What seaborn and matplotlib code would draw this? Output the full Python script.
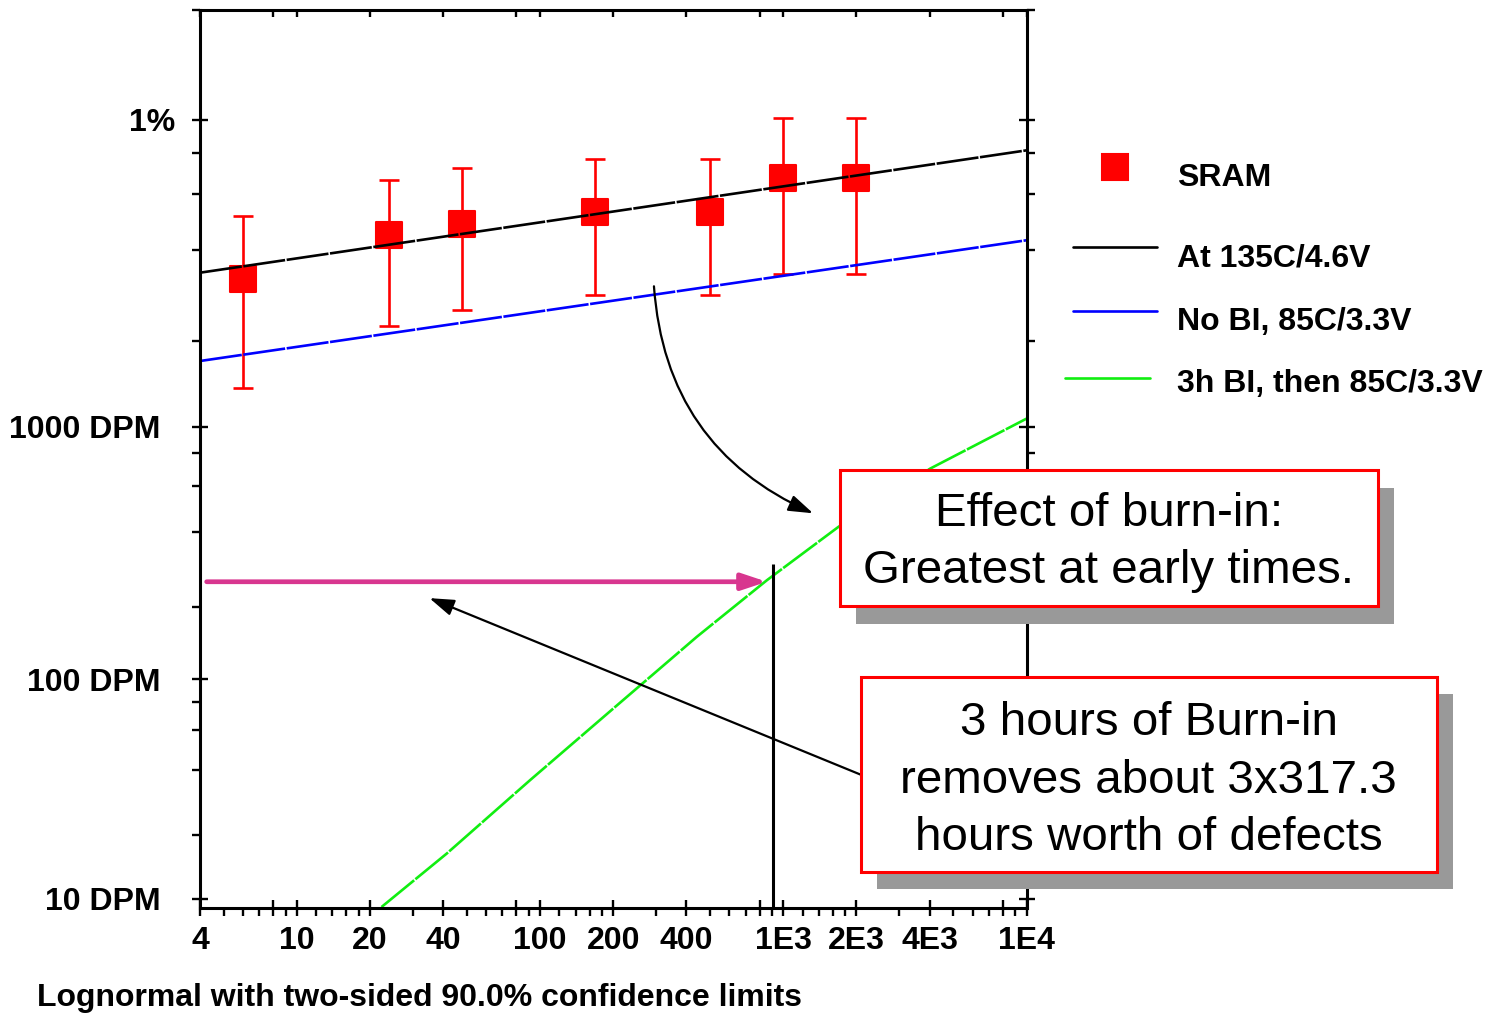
import math
import numpy as np
import matplotlib
matplotlib.use("Agg")
import matplotlib.pyplot as plt
import seaborn as sns
from matplotlib.ticker import FixedLocator, FixedFormatter, NullFormatter, NullLocator
from matplotlib.patches import Rectangle
from matplotlib.lines import Line2D

# ---------------- data ----------------
hours = [6, 24, 48, 168, 500, 1000, 2000]
frac_failed = [0.00324, 0.00447, 0.00486, 0.00527, 0.00527, 0.00673, 0.00673]
ci_upper = [0.00514, 0.00664, 0.00718, 0.00764, 0.00764, 0.01009, 0.01009]
ci_lower = [0.00137, 0.00225, 0.00255, 0.00287, 0.00287, 0.00335, 0.00335]

fit_hours = [4, 10000]
fit_135C = [0.00339, 0.00813]          # At 135C/4.6V
fit_85C_noBI = [0.00171, 0.00431]      # No BI, 85C/3.3V

bi_hours = [22.3, 41.3, 91, 200, 441, 856, 1686, 4015, 10000]
bi_frac = [9.1e-6, 1.64e-5, 3.59e-5, 7.47e-5, 1.51e-4, 2.575e-4, 4.19e-4, 6.99e-4, 1.068e-3]

x_major = [4, 8, 10, 20, 40, 80, 100, 200, 400, 800, 1000, 2000, 4000, 8000, 10000]
x_major_labels = ["4", "", "10", "20", "40", "", "100", "200", "400", "",
                  "1E3", "2E3", "4E3", "", "1E4"]
x_minor = [5, 6, 7, 9, 12, 14, 16, 18, 30, 50, 60, 70, 90, 120, 140, 160, 180,
           300, 500, 600, 700, 900, 1200, 1400, 1600, 1800, 3000, 5000, 6000,
           7000, 9000]
y_major = [1e-5, 1e-4, 1e-3, 1e-2]
y_major_labels = ["10 DPM", "100 DPM", "1000 DPM", "1%"]
y_minor = [2e-5, 4e-5, 6e-5, 8e-5, 2e-4, 4e-4, 6e-4, 8e-4,
           2e-3, 4e-3, 6e-3, 8e-3, 2e-2]

legend_labels = ["SRAM", "At 135C/4.6V", "No BI, 85C/3.3V", "3h BI, then 85C/3.3V"]
box1_lines = ["Effect of burn-in:", "Greatest at early times."]
box2_lines = ["3 hours of Burn-in", "removes about 3x317.3", "hours worth of defects"]
x_label = "Lognormal with two-sided 90.0% confidence limits"

# annotation anchors (data coordinates)
bi_end_hours = 906
pink_y = 2.54e-4

# ---------------- probit scale helpers ----------------
_SQ2 = math.sqrt(2.0)
_A = [-3.969683028665376e+01, 2.209460984245205e+02, -2.759285104469687e+02,
      1.383577518672690e+02, -3.066479806614716e+01, 2.506628277459239e+00]
_B = [-5.447609879822406e+01, 1.615858368580409e+02, -1.556989798598866e+02,
      6.680131188771972e+01, -1.328068155288572e+01]
_C = [-7.784894002430293e-03, -3.223964580411365e-01, -2.400758277161838e+00,
      -2.549732539343734e+00, 4.374664141464968e+00, 2.938163982698783e+00]
_D = [7.784695709041462e-03, 3.224671290700398e-01, 2.445134137142996e+00,
      3.754408661907416e+00]


def _cdf_s(z):
    if z != z:
        return float("nan")
    return 0.5 * math.erfc(-z / _SQ2)


def _ppf_s(p):
    if p != p:
        return float("nan")
    p = min(max(p, 1e-15), 1 - 1e-15)
    plow = 0.02425
    if p < plow:
        q = math.sqrt(-2 * math.log(p))
        x = (((((_C[0]*q+_C[1])*q+_C[2])*q+_C[3])*q+_C[4])*q+_C[5]) / \
            ((((_D[0]*q+_D[1])*q+_D[2])*q+_D[3])*q+1)
    elif p <= 1 - plow:
        q = p - 0.5
        r = q * q
        x = (((((_A[0]*r+_A[1])*r+_A[2])*r+_A[3])*r+_A[4])*r+_A[5])*q / \
            (((((_B[0]*r+_B[1])*r+_B[2])*r+_B[3])*r+_B[4])*r+1)
    else:
        q = math.sqrt(-2 * math.log(1 - p))
        x = -(((((_C[0]*q+_C[1])*q+_C[2])*q+_C[3])*q+_C[4])*q+_C[5]) / \
            ((((_D[0]*q+_D[1])*q+_D[2])*q+_D[3])*q+1)
    e = _cdf_s(x) - p
    u = e * math.sqrt(2 * math.pi) * math.exp(x * x / 2)
    x = x - u / (1 + x * u / 2)
    return x


_ppf_v = np.vectorize(_ppf_s, otypes=[float])
_cdf_v = np.vectorize(_cdf_s, otypes=[float])


def probit(p):
    return _ppf_v(np.asarray(p, dtype=float))


def inv_probit(z):
    return _cdf_v(np.asarray(z, dtype=float))


# ---------------- figure ----------------
sns.set_theme(style="white")
plt.rcParams["font.family"] = ["Liberation Sans", "DejaVu Sans"]
plt.rcParams["font.weight"] = "bold"

W, H = 1496, 1013
fig = plt.figure(figsize=(W / 100, H / 100), dpi=100)
fig.patch.set_facecolor("white")


def fx(px):
    return px / W


def fy(py):
    return 1 - py / H


ax_l, ax_r, ax_t, ax_b = 200, 1026.5, 10, 908
ax = fig.add_axes([fx(ax_l), fy(ax_b), fx(ax_r - ax_l), (ax_b - ax_t) / H])
ax.set_facecolor("white")
ax.set_xscale("log")
ax.set_yscale("function", functions=(probit, inv_probit))
ax.set_xlim(4, 1e4)
ax.set_ylim(9e-6, 0.02)

RED = "#FF0000"
BLUE = "#0000FF"
GREEN = "#11EE11"
PINK = "#D8368F"
dash = (0, (16, 0.6))
FS = 23

# error bars (under the squares)
yerr = [np.array(frac_failed) - np.array(ci_lower),
        np.array(ci_upper) - np.array(frac_failed)]
ax.errorbar(hours, frac_failed, yerr=yerr, fmt="none", ecolor=RED,
            elinewidth=1.9, capsize=7, capthick=1.9, zorder=1)

sns.scatterplot(x=hours, y=frac_failed, marker="s", s=340, color=RED,
                edgecolor=RED, linewidth=1.5, ax=ax, zorder=1.5, legend=False)
for coll in ax.collections:
    try:
        coll.set_joinstyle("round")
    except Exception:
        pass

sns.lineplot(x=fit_hours, y=fit_135C, color="black", lw=1.9, ax=ax,
             estimator=None, sort=False, linestyle=dash, zorder=2)
sns.lineplot(x=fit_hours, y=fit_85C_noBI, color=BLUE, lw=1.9, ax=ax,
             estimator=None, sort=False, linestyle=dash, zorder=2)
sns.lineplot(x=bi_hours, y=bi_frac, color=GREEN, lw=1.9, ax=ax,
             estimator=None, sort=False, linestyle=dash, zorder=2)

# vertical marker at the end of burn-in equivalent time
ax.plot([bi_end_hours, bi_end_hours], [9e-6, 2.98e-4], color="black",
        lw=2.2, zorder=2.5, solid_capstyle="butt")

# pink horizontal arrow
ax.annotate("", xy=(856, pink_y), xytext=(4.26, pink_y),
            arrowprops=dict(arrowstyle="-|>,head_length=15,head_width=5",
                            color=PINK, lw=3.4, shrinkA=0, shrinkB=0,
                            mutation_scale=1), zorder=3)
# straight black arrow from box 2
ax.annotate("", xy=(35.1, 2.18e-4), xytext=(2108, 3.78e-5),
            arrowprops=dict(arrowstyle="-|>,head_length=15,head_width=5",
                            color="black", lw=1.6, shrinkA=0, shrinkB=0,
                            mutation_scale=1), zorder=3)
# curved black arrow
ax.annotate("", xy=(1326, 4.73e-4), xytext=(294, 3.06e-3),
            arrowprops=dict(arrowstyle="-|>,head_length=15,head_width=5",
                            connectionstyle="arc3,rad=0.3",
                            color="black", lw=1.6, shrinkA=0, shrinkB=0,
                            mutation_scale=1), zorder=3)

# ---------------- axes styling ----------------
for sp in ax.spines.values():
    sp.set_visible(True)
    sp.set_color("black")
    sp.set_linewidth(2.2)

ax.xaxis.set_major_locator(FixedLocator(x_major))
ax.xaxis.set_major_formatter(FixedFormatter(x_major_labels))
ax.xaxis.set_minor_locator(FixedLocator(x_minor))
ax.xaxis.set_minor_formatter(NullFormatter())
ax.yaxis.set_major_locator(FixedLocator(y_major))
ax.yaxis.set_major_formatter(FixedFormatter(y_major_labels))
ax.yaxis.set_minor_locator(FixedLocator(y_minor))
ax.yaxis.set_minor_formatter(NullFormatter())

ax.tick_params(axis="both", which="major", direction="inout", length=11,
               width=1.7, color="black", labelsize=FS, labelcolor="black")
ax.tick_params(axis="both", which="minor", direction="out", length=5.8,
               width=1.7, color="black")
ax.tick_params(axis="x", which="both", bottom=True, top=False, pad=7.5)
ax.tick_params(axis="y", which="both", left=True, right=True, labelright=False)
ax.tick_params(axis="y", which="major", pad=23)
for lab in ax.get_xticklabels() + ax.get_yticklabels():
    lab.set_fontweight("bold")
for t, lab in zip(ax.yaxis.get_major_ticks(), y_major_labels):
    if lab == "1%":
        t.set_pad(12)
ax.grid(False)

ax.set_xlabel(x_label, fontsize=FS, fontweight="bold", color="black",
              ha="left", va="baseline")
ax.xaxis.set_label_coords((37 - ax_l) / (ax_r - ax_l), -(1006 - ax_b) / (ax_b - ax_t))
ax.set_ylabel("")

# top axis: short inward major ticks only
ax_top = ax.twiny()
ax_top.set_xscale("log")
ax_top.set_xlim(ax.get_xlim())
ax_top.xaxis.set_major_locator(FixedLocator(x_major))
ax_top.xaxis.set_minor_locator(NullLocator())
ax_top.tick_params(axis="x", which="major", direction="in", length=5.2,
                   width=1.7, color="black", top=True, bottom=False,
                   labeltop=False, labelbottom=False)
for sp in ax_top.spines.values():
    sp.set_visible(False)
ax_top.grid(False)

# ---------------- legend (drawn at figure level) ----------------
fig.add_artist(Line2D([fx(1115)], [fy(166.7)], marker="s", markersize=19,
                      color=RED, markeredgewidth=1.5, linestyle="none",
                      transform=fig.transFigure))
fig.add_artist(Line2D([fx(1073), fx(1157)], [fy(247), fy(247)], color="black",
                      lw=1.9, transform=fig.transFigure))
fig.add_artist(Line2D([fx(1073), fx(1157)], [fy(311), fy(311)], color=BLUE,
                      lw=1.9, transform=fig.transFigure))
fig.add_artist(Line2D([fx(1065), fx(1150)], [fy(378), fy(378)], color=GREEN,
                      lw=1.9, transform=fig.transFigure))
for lab, base in zip(legend_labels, [185.5, 266.5, 330, 392]):
    fig.text(fx(1177), fy(base), lab, fontsize=FS, fontweight="bold",
             ha="left", va="baseline", color="black")

# ---------------- callout boxes ----------------
def callout(x0, y0, x1, y1, dx, dy, lines, cx, baselines):
    fig.add_artist(Rectangle((fx(x0 + dx), fy(y1 + dy)), (x1 - x0) / W,
                             (y1 - y0) / H, transform=fig.transFigure,
                             facecolor="#999999", edgecolor="none", zorder=5))
    fig.add_artist(Rectangle((fx(x0), fy(y1)), (x1 - x0) / W, (y1 - y0) / H,
                             transform=fig.transFigure, facecolor="white",
                             edgecolor=RED, lw=2.2, zorder=6))
    for txt, b in zip(lines, baselines):
        fig.text(fx(cx), fy(b), txt, fontsize=34.2, fontweight="normal",
                 ha="center", va="baseline", color="black", zorder=7)


callout(840, 470, 1378, 606, 16, 18, box1_lines, 1108.7, [525.7, 582.7])
callout(861, 677, 1437, 872, 16, 17, box2_lines, 1148.5, [735, 792.5, 850])

fig.savefig("out.png", dpi=100, facecolor="white")
